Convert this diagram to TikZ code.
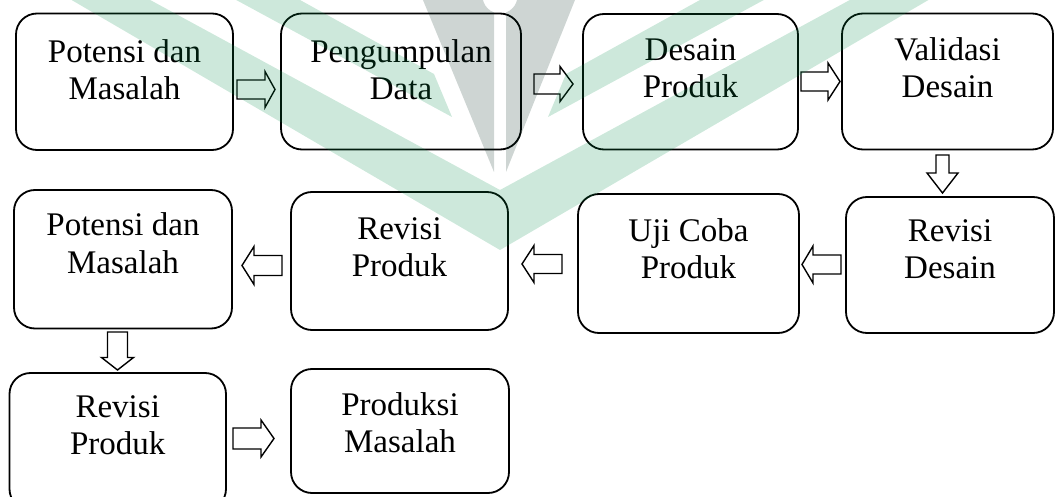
\documentclass[tikz,border=0pt]{standalone}
\usepackage{fontspec}
\setmainfont{Liberation Serif}
\usetikzlibrary{calc}
\definecolor{wmgreen}{RGB}{0,140,71}
\definecolor{wmgray}{RGB}{5,41,31}
\newcommand\twoline[2]{\parbox[t]{230pt}{\centering #1\\#2}}
\tikzset{
  box/.style={draw=black, line width=1.8pt, rounded corners=21pt, inner sep=0pt, outer sep=0pt},
  lbl/.style={inner sep=0pt, outer sep=0pt, font=\fontsize{33}{37}\selectfont, anchor=base},
  barrow/.style={draw=black, line width=1.4pt, line join=miter},
  wm/.style={fill opacity=0.196},
}
% #1 start coordinate, #2 tip coordinate, #3 shaft half width, #4 head half width, #5 head length
\newcommand\blockarrow[5]{%
  \coordinate (hb) at ($(#2)!#5!(#1)$);
  \draw[barrow] ($(#1)!#3!90:(#2)$) -- ($(hb)!#3!90:(#2)$) -- ($(hb)!#4!90:(#2)$) -- (#2)
     -- ($(hb)!#4!-90:(#2)$) -- ($(hb)!#3!-90:(#2)$) -- ($(#1)!#3!-90:(#2)$) -- cycle;
}
\begin{document}
\begin{tikzpicture}[x=1pt,y=-1pt]
\useasboundingbox (0,0) rectangle (1057,497);
\clip (0,0) rectangle (1057,497);
% boxes
\node[box, minimum width=217pt, minimum height=136.5pt] (b1) at (124.5,81.75) {};
\node[box, minimum width=240pt, minimum height=136pt] (b2) at (401,81.5) {};
\node[box, minimum width=215pt, minimum height=135.5pt] (b3) at (690.5,81.75) {};
\node[box, minimum width=211pt, minimum height=136pt] (b4) at (947.5,81.5) {};
\node[box, minimum width=218pt, minimum height=138.5pt] (b5) at (123,259.25) {};
\node[box, minimum width=217pt, minimum height=138pt] (b6) at (399.5,261) {};
\node[box, minimum width=221pt, minimum height=139pt] (b7) at (688.5,263.5) {};
\node[box, minimum width=208pt, minimum height=136pt] (b8) at (950,265) {};
\node[box, minimum width=216.5pt, minimum height=137pt] (b9) at (117.75,441.5) {};
\node[box, minimum width=218pt, minimum height=124pt] (b10) at (400,431) {};
% labels (anchored at the baseline of their first line)
\node[lbl] (t1) at (b1.center |- 0,62.5) {\twoline{Potensi dan}{Masalah}};
\node[lbl] (t2) at (b2.center |- 0,62.5) {\twoline{Pengumpulan}{Data}};
\node[lbl] (t3) at (b3.center |- 0,61) {\twoline{Desain}{Produk}};
\node[lbl] (t4) at (b4.center |- 0,61) {\twoline{Validasi}{Desain}};
\node[lbl] (t5) at (b5.center |- 0,236) {\twoline{Potensi dan}{Masalah}};
\node[lbl] (t6) at (b6.center |- 0,239) {\twoline{Revisi}{Produk}};
\node[lbl] (t7) at (b7.center |- 0,241) {\twoline{Uji Coba}{Produk}};
\node[lbl] (t8) at (b8.center |- 0,241) {\twoline{Revisi}{Desain}};
\node[lbl] (t9) at (b9.center |- 0,417) {\twoline{Revisi}{Produk}};
\node[lbl] (t10) at (b10.center |- 0,415) {\twoline{Produksi}{Masalah}};
% block arrows
\coordinate (a1s) at (237,89.5);   \coordinate (a1e) at (275,89.5);
\coordinate (a2s) at (534,84);     \coordinate (a2e) at (573,84);
\coordinate (a3s) at (801,81.5);   \coordinate (a3e) at (840,81.5);
\coordinate (a4s) at (942.5,155);  \coordinate (a4e) at (942.5,193);
\coordinate (a5s) at (841,264.5);  \coordinate (a5e) at (802,264.5);
\coordinate (a6s) at (562,264);    \coordinate (a6e) at (522,264);
\coordinate (a7s) at (282,265.5);  \coordinate (a7e) at (242,265.5);
\coordinate (a8s) at (117.5,332);  \coordinate (a8e) at (117.5,370);
\coordinate (a9s) at (233,438.5);  \coordinate (a9e) at (274,438.5);
\blockarrow{a1s}{a1e}{9.5pt}{18pt}{10pt}
\blockarrow{a2s}{a2e}{10pt}{17.5pt}{13pt}
\blockarrow{a3s}{a3e}{9.5pt}{18.5pt}{12pt}
\blockarrow{a4s}{a4e}{6.5pt}{15.5pt}{20pt}
\blockarrow{a5s}{a5e}{9.5pt}{18.5pt}{11pt}
\blockarrow{a6s}{a6e}{9.5pt}{18.5pt}{12pt}
\blockarrow{a7s}{a7e}{10pt}{19pt}{12pt}
\blockarrow{a8s}{a8e}{10pt}{16pt}{12.5pt}
\blockarrow{a9s}{a9e}{10.5pt}{18.5pt}{13pt}
% watermark
\fill[wmgreen, wm] (63,-5) -- (141,-5) -- (500,190) -- (859,-5) -- (937,-5) -- (500,250) -- cycle;
\fill[wmgreen, wm] (227,-5) -- (291,-5) -- (434,74) -- (452,117) -- cycle;
\fill[wmgreen, wm] (773,-5) -- (709,-5) -- (566,74) -- (548,117) -- cycle;
\begin{scope}[even odd rule]
  \clip (0,-30) rectangle (1057,500) (500,-4) circle (17.5);
  \fill[wmgray, wm] (414.7,-20) -- (494,-20) -- (494,172) -- cycle;
  \fill[wmgray, wm] (506,-20) -- (583,-20) -- (506,172) -- cycle;
\end{scope}
\end{tikzpicture}
\end{document}
